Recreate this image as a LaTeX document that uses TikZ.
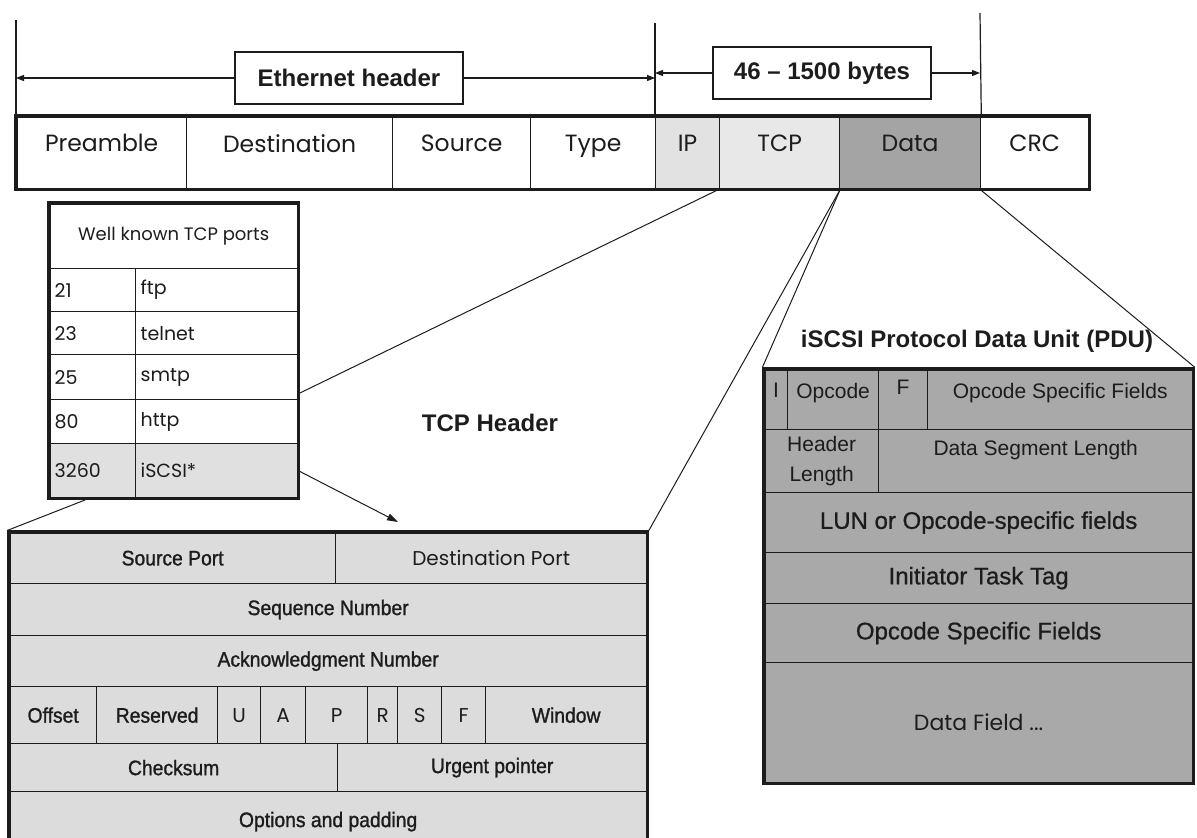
\documentclass[tikz,border=0pt]{standalone}
\usepackage{fontspec}
\setmainfont{Liberation Sans}
\newfontfamily\geo{Poppins}
\newfontfamily\nsans{Liberation Sans}[FakeStretch=0.92,FakeBold=1.2]
\newfontfamily\msans{Liberation Sans}[FakeBold=0.8]
\usetikzlibrary{fit,calc,arrows.meta}

\definecolor{ipgrey}{HTML}{E2E2E2}
\definecolor{tcpgrey}{HTML}{E8E8E8}
\definecolor{datagrey}{HTML}{A4A4A4}
\definecolor{hdrgrey}{HTML}{DCDCDC}
\definecolor{pdugrey}{HTML}{A9A9A9}
\definecolor{rowgrey}{HTML}{E0E0E0}
\definecolor{ink}{HTML}{1C1C1C}

% one field of a packet layout: [style] name x y width height text
\newcommand{\fld}[7][]{\node[cell,minimum width=#5pt,minimum height=#6pt,#1] (#2) at (#3,#4) {#7};}

\begin{document}
\begin{tikzpicture}[x=1pt,y=-1pt,
  cell/.style={draw=ink, line width=1.3pt, inner sep=0pt, anchor=north west, text=ink, align=center},
  frame/.style={draw=ink, line width=3.2pt, inner sep=0pt},
  geobar/.style={font=\geo\fontsize{23.5}{25}\selectfont},
  head/.style={font=\bfseries\fontsize{24}{26}\selectfont, text=ink},
  hbox/.style={draw=ink, line width=1.2pt, fill=white, inner sep=0pt, head},
  dim/.style={draw=ink, line width=1.2pt},
  dimarrow/.style={dim, -{Triangle[length=8pt,width=6pt]}},
  link/.style={draw=ink, line width=1pt},
  pnum/.style={font=\geo\fontsize{19}{21}\selectfont, text width=76pt, inner xsep=5pt, align=left},
  pname/.style={font=\geo\fontsize{19}{21}\selectfont, text width=152pt, inner xsep=5pt, align=left},
  tf/.style={fill=hdrgrey, font=\nsans\fontsize{21}{23}\selectfont},
  tg/.style={fill=hdrgrey, font=\geo\fontsize{20}{22}\selectfont},
  pf/.style={fill=pdugrey, font=\fontsize{21}{23}\selectfont},
  pb/.style={fill=pdugrey, font=\msans\fontsize{24}{26}\selectfont},
]
\useasboundingbox (0,0) rectangle (1197,838);
\clip (0,0) rectangle (1197,838);

% ---------------- Ethernet frame ----------------
\fld[geobar]{pre}{16}{116}{170}{72}{Preamble\\[-6pt]\mbox{}}
\fld[geobar]{dst}{186}{116}{206}{72}{Destination\\[-6pt]\mbox{}}
\fld[geobar]{src}{392}{116}{138}{72}{Source\\[-6pt]\mbox{}}
\fld[geobar]{typ}{530}{116}{125}{72}{Type\\[-6pt]\mbox{}}
\fld[geobar,fill=ipgrey]{ip}{655}{116}{64}{72}{IP\\[-6pt]\mbox{}}
\fld[geobar,fill=tcpgrey]{tcp}{719}{116}{120}{72}{TCP\\[-6pt]\mbox{}}
\fld[geobar,fill=datagrey]{dat}{839}{116}{141}{72}{Data\\[-6pt]\mbox{}}
\fld[geobar]{crc}{980}{116}{108}{72}{CRC\\[-6pt]\mbox{}}
\node[frame, fit=(pre)(crc)] (bar) {};

% dimension lines above the frame
\coordinate (v1) at (16,20);
\coordinate (v2) at (655,23);
\coordinate (v3) at (980,13);
\draw[dim] (v1) -- (pre.north west);
\draw[dim] (v2) -- (ip.north west);
\draw[dim] (v3) -- (dat.north east);

\node[hbox, minimum width=228pt, minimum height=52pt] (eth) at (349,78) {Ethernet header};
\draw[dimarrow] (eth.west) -- (eth.west -| v1);
\draw[dimarrow] (eth.east) -- (eth.east -| v2);

\node[hbox, minimum width=218pt, minimum height=52pt] (bytes) at (822,73) {46 -- 1500 bytes};
\draw[dimarrow] (bytes.west) -- (bytes.west -| v2);
\draw[dimarrow] (bytes.east) -- (bytes.east -| v3);

% ---------------- Well known ports ----------------
\fld[font=\geo\fontsize{18}{20}\selectfont]{ph}{49}{203}{248}{65}{Well known TCP ports}
\fld[pnum]{n21}{49}{268}{86}{43}{21}
\fld[pname]{s21}{135}{268}{162}{43}{ftp}
\fld[pnum]{n23}{49}{311}{86}{43}{23}
\fld[pname]{s23}{135}{311}{162}{43}{telnet}
\fld[pnum]{n25}{49}{354}{86}{45}{25}
\fld[pname]{s25}{135}{354}{162}{45}{smtp}
\fld[pnum]{n80}{49}{399}{86}{44}{80}
\fld[pname]{s80}{135}{399}{162}{44}{http}
\fld[pnum,fill=rowgrey]{n3260}{49}{443}{86}{54}{3260}
\fld[pname,fill=rowgrey]{s3260}{135}{443}{162}{54}{iSCSI*}
\node[frame, fit=(ph)(s3260)] (ports) {};

% ---------------- TCP header ----------------
\fld[tf]{sport}{9}{532}{326}{51}{Source Port}
\fld[tg]{dport}{335}{532}{311}{51}{Destination Port}
\fld[tf]{seq}{9}{583}{637}{52}{Sequence Number}
\fld[tf]{ack}{9}{635}{637}{51}{Acknowledgment Number}
\fld[tf]{off}{9}{686}{87}{57}{Offset}
\fld[tf]{res}{96}{686}{121}{57}{Reserved}
\fld[tg]{fu}{217}{686}{43}{57}{U}
\fld[tg]{fa}{260}{686}{45}{57}{A}
\fld[tg]{fp}{305}{686}{62}{57}{P}
\fld[tg]{fr}{367}{686}{30}{57}{R}
\fld[tg]{fs}{397}{686}{44}{57}{S}
\fld[tg]{ff}{441}{686}{44}{57}{F}
\fld[tf]{win}{485}{686}{161}{57}{Window}
\fld[tf]{chk}{9}{743}{328}{48}{Checksum}
\fld[tf]{urg}{337}{743}{309}{48}{Urgent pointer}
\fld[tf]{opt}{9}{791}{637}{60}{Options and padding}
\node[frame, fit=(sport)(opt)] (tcph) {};
\node[head] (tcplbl) at (490,423) {TCP Header};

% ---------------- iSCSI PDU ----------------
\fld[pf]{pi}{764}{369}{23}{60}{I\\[-5pt]\mbox{}}
\fld[pf]{popc}{787}{369}{91}{60}{Opcode\\[-5pt]\mbox{}}
\fld[pf]{pfl}{878}{369}{49}{60}{F\\[1pt]\mbox{}}
\fld[pf]{posf}{927}{369}{265}{60}{Opcode Specific Fields\\[-5pt]\mbox{}}
\fld[pf, font=\fontsize{21}{30}\selectfont]{phl}{764}{429}{114}{63}{Header\\Length}
\fld[pf]{pdsl}{878}{429}{314}{63}{Data Segment Length\\[3pt]\mbox{}}
\fld[pb]{plun}{764}{492}{428}{60}{LUN or Opcode-specific fields}
\fld[pb]{pitt}{764}{552}{428}{51}{Initiator Task Tag}
\fld[pb]{posf2}{764}{603}{428}{59}{Opcode Specific Fields}
\fld[pf, font=\geo\fontsize{22}{24}\selectfont]{pdf}{764}{662}{428}{120}{Data Field ...}
\node[frame, fit=(pi)(pdf)] (pdu) {};
\node[head] (pdutitle) at (977,341) {iSCSI Protocol Data Unit (PDU)};

% ---------------- connectors ----------------
\coordinate (portshit) at (ports.east |- 0,393);
\coordinate (tcptarget) at (398,522);
\draw[link] (tcp.south west) -- (portshit);
\draw[link] (tcp.south east) -- (tcph.north east);
\draw[link] (tcp.south east) -- (pdu.north west);
\draw[link] (crc.south west) -- (pdu.north east);
\draw[link] ($(ports.south west)!0.15!(ports.south east)$) -- (tcph.north west);
\draw[link, -{Triangle[length=11pt,width=7pt]}] (s3260.east) -- (tcptarget);
\end{tikzpicture}
\end{document}
